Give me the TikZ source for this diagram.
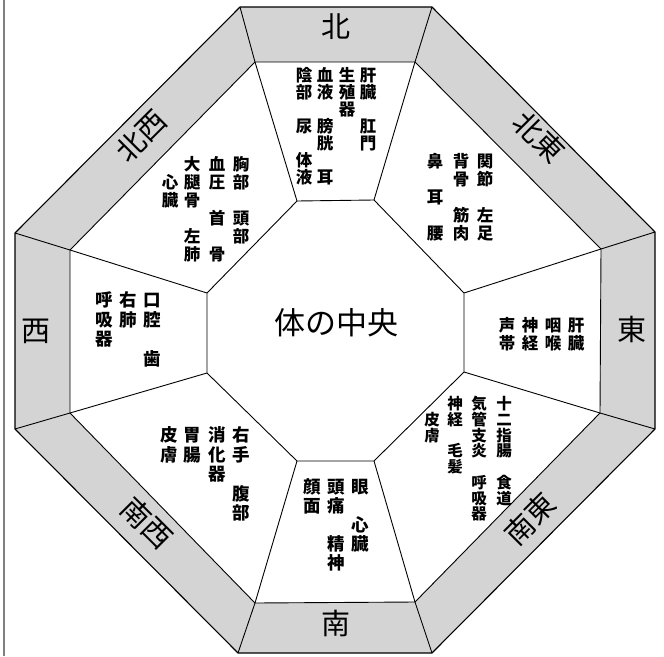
\documentclass[tikz,border=0pt]{standalone}
\usepackage{fontspec}
\newfontfamily\cjk{Noto Sans CJK JP}
\newcommand\jcol[6]{\foreach \jc/\r in {#6}{\node[#1] (#2-\r) at (#3,{#4+#5*\r}) {\jc};}}
\begin{document}
\begin{tikzpicture}[x=1pt,y=-1pt,
  edge/.style={line width=0.9pt,black,line join=round},
  band/.style={fill=black!17},
  jp/.style={inner sep=0pt,text height=0.88em,text depth=0.12em},
  dirlab/.style={jp,font=\cjk\fontsize{29}{29}\selectfont},
  centerlab/.style={jp,font=\cjk\fontsize{31}{31}\selectfont},
  jpA/.style={jp,font=\cjk\bfseries\fontsize{16.5}{16.5}\selectfont},
  jpB/.style={jp,font=\cjk\bfseries\fontsize{15.5}{15.5}\selectfont},
  jpC/.style={jp,font=\cjk\bfseries\fontsize{17.5}{17.5}\selectfont}]
\useasboundingbox (0,0) rectangle (664,656);
% outer octagon
\coordinate (O1) at (240,7);   \coordinate (O2) at (432,7);
\coordinate (O3) at (655,232); \coordinate (O4) at (655,429);
\coordinate (O5) at (432,653); \coordinate (O6) at (238,653);
\coordinate (O7) at (15,429);  \coordinate (O8) at (15,233);
% inner ring octagon
\coordinate (I1) at (255,62);  \coordinate (I2) at (415,62);
\coordinate (I3) at (601,249); \coordinate (I4) at (600,413);
\coordinate (I5) at (415,602); \coordinate (I6) at (255,603);
\coordinate (I7) at (70,413);  \coordinate (I8) at (70,250);
% central octagon
\coordinate (C1) at (297,201); \coordinate (C2) at (374,200);
\coordinate (C3) at (464,293); \coordinate (C4) at (464,372);
\coordinate (C5) at (374,461); \coordinate (C6) at (297,461);
\coordinate (C7) at (207,373); \coordinate (C8) at (207,293);
% left border line
\coordinate (L1) at (4,0); \coordinate (L2) at (4,656);
\draw[gray,line width=1.2pt] (L1) -- (L2);
% band
\fill[band,even odd rule] (O1)--(O2)--(O3)--(O4)--(O5)--(O6)--(O7)--(O8)--cycle
  (I1)--(I2)--(I3)--(I4)--(I5)--(I6)--(I7)--(I8)--cycle;
\draw[edge,line width=1.1pt] (O1)--(O2)--(O3)--(O4)--(O5)--(O6)--(O7)--(O8)--cycle;
\draw[edge] (I1)--(I2)--(I3)--(I4)--(I5)--(I6)--(I7)--(I8)--cycle;
\draw[edge] (C1)--(C2)--(C3)--(C4)--(C5)--(C6)--(C7)--(C8)--cycle;
\foreach \k in {1,...,8}{\draw[edge] (O\k) -- (I\k); \draw[edge] (I\k) -- (C\k);}
% direction labels
\node[dirlab] (dN) at (336,34) {北};
\node[dirlab] (dE) at (632,337) {東};
\node[dirlab] (dS) at (336,631) {南};
\node[dirlab] (dW) at (36,338) {西};
\node[dirlab,rotate=-45] (dNE) at (534,142) {北東};
\node[dirlab,rotate=45] (dNW) at (146,141) {北西};
\node[dirlab,rotate=-45] (dSW) at (142,528) {南西};
\node[dirlab,rotate=45] (dSE) at (535,524) {南東};
% center
\node[centerlab] (ctr) at (336,331) {体の中央};
% North
\jcol{jpA}{Na}{368}{78}{17}{肝/0,臓/1,肛/3,門/4}
\jcol{jpA}{Nb}{347}{78}{17}{生/0,殖/1,器/2}
\jcol{jpA}{Nc}{325}{78}{17}{血/0,液/1,膀/3,胱/4,耳/6}
\jcol{jpA}{Nd}{304}{78}{17}{陰/0,部/1,尿/3,体/5,液/6}
% North-East
\jcol{jpA}{NEa}{485}{164}{18}{関/0,節/1,左/3,足/4}
\jcol{jpA}{NEb}{461}{164}{18}{背/0,骨/1,筋/3,肉/4}
\jcol{jpA}{NEc}{435}{164}{18}{鼻/0,耳/2,腰/4}
% East
\jcol{jpA}{Ea}{576}{328}{18}{肝/0,臓/1}
\jcol{jpA}{Eb}{553}{328}{18}{咽/0,喉/1}
\jcol{jpA}{Ec}{530}{328}{18}{神/0,経/1}
\jcol{jpA}{Ed}{507}{328}{18}{声/0,帯/1}
% South-East
\jcol{jpB}{SEa}{504}{406}{15.7}{十/0,二/1,指/2,腸/3,食/5,道/6}
\jcol{jpB}{SEb}{479}{406}{15.7}{気/0,管/1,支/2,炎/3,呼/5,吸/6,器/7}
\jcol{jpB}{SEc}{455}{406}{15.7}{神/0,経/1,毛/3,髪/4}
\jcol{jpB}{SEd}{432}{406}{15.7}{皮/1,膚/2}
% South
\jcol{jpC}{Sa}{360}{490}{19}{眼/0,心/2,臓/3}
\jcol{jpC}{Sb}{336}{490}{19}{頭/0,痛/1,精/3,神/4}
\jcol{jpC}{Sc}{312}{490}{19}{顔/0,面/1}
% South-West
\jcol{jpC}{SWa}{241}{438}{19.5}{右/0,手/1,腹/3,部/4}
\jcol{jpC}{SWb}{217}{438}{19.5}{消/0,化/1,器/2}
\jcol{jpC}{SWc}{192}{438}{19.5}{胃/0,腸/1}
\jcol{jpC}{SWd}{169}{438}{19.5}{皮/0,膚/1}
% West
\jcol{jpC}{Wa}{152}{303}{19.5}{口/0,腔/1,歯/3}
\jcol{jpC}{Wb}{128}{303}{19.5}{右/0,肺/1}
\jcol{jpC}{Wc}{104}{303}{19.5}{呼/0,吸/1,器/2}
% North-West
\jcol{jpA}{NWa}{241}{167}{18}{胸/0,部/1,頭/3,部/4}
\jcol{jpA}{NWb}{217}{167}{18}{血/0,圧/1,首/3,骨/5}
\jcol{jpA}{NWc}{192}{167}{18}{大/0,腿/1,骨/2,左/4,肺/5}
\jcol{jpA}{NWd}{170}{167}{18}{心/1,臓/2}
\end{tikzpicture}
\end{document}
